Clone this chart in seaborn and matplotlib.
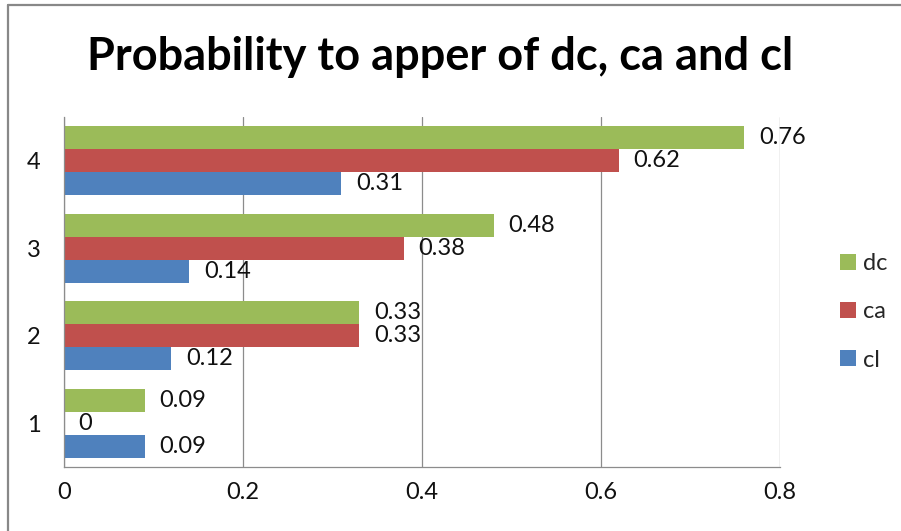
import matplotlib
matplotlib.use("Agg")
import matplotlib.pyplot as plt
from matplotlib.lines import Line2D
import seaborn as sns
import pandas as pd

# Chart values
categories = ["1", "2", "3", "4"]
series = ["dc", "ca", "cl"]
dc = [0.09, 0.33, 0.48, 0.76]
ca = [0.00, 0.33, 0.38, 0.62]
cl = [0.09, 0.12, 0.14, 0.31]
x_ticks = [0, 0.2, 0.4, 0.6, 0.8]
x_tick_labels = ["0", "0.2", "0.4", "0.6", "0.8"]
colors = {"dc": "#9BBB59", "ca": "#C0504D", "cl": "#4F81BD"}
title = "Probability to apper of dc, ca and cl"

rows = []
for name, vals in zip(series, [dc, ca, cl]):
    for cat, v in zip(categories, vals):
        rows.append({"group": cat, "series": name, "value": v})
df = pd.DataFrame(rows)

sns.set_theme(style="white")
plt.rcParams["font.family"] = ["Lato", "DejaVu Sans"]

W, H = 901, 531
fig = plt.figure(figsize=(W / 100, H / 100), dpi=100)
ax = fig.add_axes([64 / W, 1 - 467 / H, (780 - 64) / W, (467 - 117) / H])

sns.barplot(
    data=df, x="value", y="group", hue="series",
    order=categories[::-1], hue_order=series,
    palette=colors, orient="h", width=0.79, saturation=1,
    linewidth=0, ax=ax,
)

for cont in ax.containers:
    ax.bar_label(cont, fmt="{:g}", padding=10.5, fontsize=17, color="#111111")

ax.set_xlim(0, 0.8)
ax.set_ylim(3.5, -0.5)
ax.set_xticks(x_ticks)
ax.set_xticklabels(x_tick_labels)
ax.set_xlabel("")
ax.set_ylabel("")
ax.tick_params(axis="x", length=0, pad=11, labelsize=17, labelcolor="#111111")
ax.tick_params(axis="y", length=0, pad=17, labelsize=17, labelcolor="#111111")

ax.grid(axis="x", color="#8C8C8C", linewidth=0.9)
ax.set_axisbelow(True)
for side in ["top", "right"]:
    ax.spines[side].set_visible(False)
for side in ["left", "bottom"]:
    ax.spines[side].set_color("#8C8C8C")
    ax.spines[side].set_linewidth(0.9)

# Legend on the right with square swatches
handles, labels = ax.get_legend_handles_labels()
ax.legend(
    handles, labels, loc="center left", bbox_to_anchor=(1.071, 0.443),
    frameon=False, fontsize=17, handlelength=0.65, handleheight=0.65,
    handletextpad=0.3, labelspacing=1.15, borderaxespad=0,
)

fig.text(0.488, 1 - 57 / H, title, ha="center", va="center",
         fontsize=32.5, fontweight="bold", color="black")

# Outer frame lines (left and top)
fig.add_artist(Line2D([8 / W, 8 / W], [0, 1 - 5 / H], transform=fig.transFigure,
                      color="#888888", linewidth=1.6))
fig.add_artist(Line2D([8 / W, 1], [1 - 5 / H, 1 - 5 / H], transform=fig.transFigure,
                      color="#888888", linewidth=1.6))

fig.savefig("out.png", dpi=100)
